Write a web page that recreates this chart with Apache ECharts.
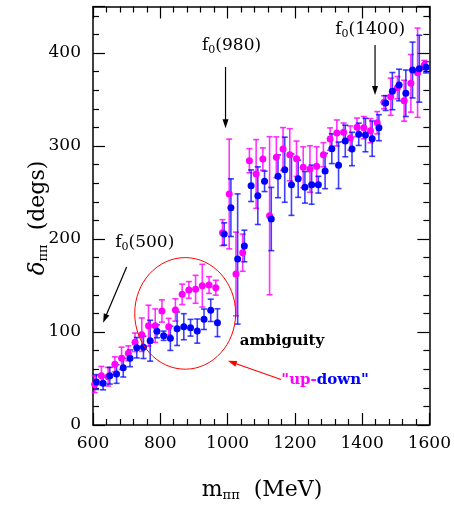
<!DOCTYPE html>
<html><head><meta charset="utf-8">
<script src="https://cdn.jsdelivr.net/npm/echarts@6/dist/echarts.min.js"></script>
<style>html,body{margin:0;padding:0;background:#fff}#c{width:454px;height:507px}</style>
</head><body><div id="c"></div>
<script>
// "down" solution (blue)
const blueMass = [610,630,650,670,690,710,730,750,770,790,810,830,850,870,890,910,930,950,970,
  990,1010,1030,1050,1070,1090,1110,1130,1150,1170,1190,1210,1230,1250,1270,1290,1310,1330,1350,1370,1390,
  1410,1430,1450,1470,1490,1510,1530,1550,1570,1590];
const blueDelta = [46.2,44.8,53.0,54.8,61.6,71.7,83.1,83.5,90.6,100.8,96.0,93.2,103.5,105.7,104.6,101.0,113.7,123.3,110.0,
  205.4,233.7,178.5,192.5,257.3,246.6,262.0,221.5,267.4,274.5,258.4,264.8,255.6,258.4,258.4,273.1,297.1,279.2,305.4,296.8,312.6,
  311.8,307.9,319.7,346.2,359.0,365.6,356.7,381.7,383.1,384.6];
const blueErr = [8,7,9,10,10,9,11,12,22,7,5,13,18,14,9,13,11,12,15,
  12,31,70,17,17,31,11,34,23,35,33,20,17,21,9,19,16,25,17,18,12,
  18,19,14,8,20,17,25,30,36,6];
// "up" solution (magenta)
const pinkMass = [605,625,645,665,685,705,725,745,765,785,805,825,845,865,885,905,925,945,965,
  985,1005,1025,1045,1065,1085,1105,1125,1145,1165,1185,1205,1225,1245,1265,1285,1305,1325,1345,1365,1385,
  1405,1425,1445,1465,1485,1505,1525,1545,1565,1585];
const pinkDelta = [43.8,53.0,51.9,65.3,71.7,77.1,88.9,97.1,106.8,106.8,122.6,105.7,123.7,140.5,145.2,145.9,149.8,150.5,147.6,
  206.8,248.4,162.4,185.3,284.2,269.9,286.0,225.0,287.8,296.8,290.6,286.3,277.1,275.3,278.2,290.6,307.5,314.0,314.7,308.6,320.1,
  319.7,316.5,325.0,347.0,353.0,362.7,348.7,367.4,378.8,387.1];
const pinkErr = [9,10,10,8,12,8,10,18,22,18,12,9,12,11,9,15,23,9,8,
  14,59,45,20,13,37,12,85,22,23,28,19,22,25,21,13,12,14,10,13,10,
  12,13,12,7,20,12,22,31,48,5];
const xRange = [600, 1600];
const yRange = [0, 450];

const FONT = 'DejaVu Serif';
const BLUE = '#0000ff', PINK = '#ff00ff';
const chart = echarts.init(document.getElementById('c'));

function errData(m, d, e) { return m.map((x, i) => [x, d[i] - e[i], d[i] + e[i]]); }
function errSeries(data, color, z, op) {
  return {
    type: 'custom', z, data, silent: true, encode: { x: 0, y: [1, 2] },
    renderItem(params, api) {
      const x = api.value(0), lo = api.value(1), hi = api.value(2);
      const a = api.coord([x, lo]), b = api.coord([x, hi]);
      const w = 3;
      const style = { stroke: color, lineWidth: 1.6, opacity: op };
      return { type: 'group', children: [
        { type: 'line', shape: { x1: a[0], y1: a[1], x2: b[0], y2: b[1] }, style },
        { type: 'line', shape: { x1: a[0] - w, y1: a[1], x2: a[0] + w, y2: a[1] }, style },
        { type: 'line', shape: { x1: b[0] - w, y1: b[1], x2: b[0] + w, y2: b[1] }, style }
      ] };
    }
  };
}
const tickCommon = {
  axisLine: { show: true, onZero: false, lineStyle: { color: '#000', width: 1.5 } },
  axisTick: { show: true, inside: true, length: 12, lineStyle: { color: '#000', width: 1.2 } },
  minorTick: { show: true, splitNumber: 5, length: 6, lineStyle: { color: '#000', width: 1.2 } },
  splitLine: { show: false }
};
const labelStyle = { fontFamily: FONT, fontSize: 17, color: '#000', formatter: v => String(v), showMaxLabel: false };

chart.setOption({
  animation: false,
  grid: { left: 93, right: 23, top: 6.5, bottom: 82 },
  xAxis: [
    Object.assign({ type: 'value', min: xRange[0], max: xRange[1], interval: 200, position: 'bottom',
      axisLabel: Object.assign({}, labelStyle, { margin: 10, showMaxLabel: true }) }, tickCommon),
    Object.assign({ type: 'value', min: xRange[0], max: xRange[1], interval: 200, position: 'top',
      axisLabel: { show: false } }, tickCommon)
  ],
  yAxis: [
    Object.assign({ type: 'value', min: yRange[0], max: yRange[1], interval: 100, position: 'left',
      axisLabel: Object.assign({}, labelStyle, { margin: 12 }) }, tickCommon),
    Object.assign({ type: 'value', min: yRange[0], max: yRange[1], interval: 100, position: 'right',
      axisLabel: { show: false } }, tickCommon)
  ],
  series: [
    errSeries(errData(pinkMass, pinkDelta, pinkErr), PINK, 2, 0.8),
    errSeries(errData(blueMass, blueDelta, blueErr), BLUE, 3, 0.75),
    { type: 'scatter', z: 4, symbolSize: 7, itemStyle: { color: PINK, opacity: 1 },
      data: pinkMass.map((x, i) => [x, pinkDelta[i]]) },
    { type: 'scatter', z: 5, symbolSize: 7, itemStyle: { color: BLUE, opacity: 1 },
      data: blueMass.map((x, i) => [x, blueDelta[i]]) }
  ]
});

function px(m, v) { return chart.convertToPixel({ xAxisIndex: 0, yAxisIndex: 0 }, [m, v]); }
function arrow(p, q, color, width, headLen, headW) {
  const dx = q[0] - p[0], dy = q[1] - p[1], L = Math.hypot(dx, dy), ux = dx / L, uy = dy / L;
  const bx = q[0] - ux * headLen, by = q[1] - uy * headLen, nx = -uy, ny = ux;
  return [
    { type: 'line', z: 10, shape: { x1: p[0], y1: p[1], x2: bx + ux, y2: by + uy }, style: { stroke: color, lineWidth: width } },
    { type: 'polygon', z: 10, shape: { points: [[q[0], q[1]], [bx + nx * headW / 2, by + ny * headW / 2], [bx - nx * headW / 2, by - ny * headW / 2]] },
      style: { fill: color } }
  ];
}
const normal = { fontFamily: FONT, fontSize: 17, fill: '#000' };
const sub = { fontFamily: FONT, fontSize: 11, fill: '#000', padding: [9, 0, 0, 0] };
function label(txt, p) {
  return { type: 'text', z: 10, style: { text: txt, x: p[0], y: p[1], align: 'center', verticalAlign: 'middle',
    rich: { n: normal, s: sub } } };
}
const c = px(874, 120), e = px(874 + 150, 120 + 60);
const g = [];
g.push(label('{n|f}{s|0}{n|(500)}', px(754, 196)));
g.push(...arrow(px(700, 170), px(630, 110), '#000', 1.2, 9, 6));
g.push(label('{n|f}{s|0}{n|(980)}', px(1012, 407.5)));
g.push(...arrow(px(994, 385), px(994, 319), '#000', 1.2, 9, 6));
g.push(label('{n|f}{s|0}{n|(1400)}', px(1424, 424.7)));
g.push(...arrow(px(1438.5, 408.6), px(1438.5, 354.8), '#000', 1.2, 9, 6));
g.push({ type: 'ellipse', z: 9, shape: { cx: c[0], cy: c[1], rx: e[0] - c[0], ry: c[1] - e[1] },
  style: { fill: 'none', stroke: '#ff0000', lineWidth: 1 } });
const amb = px(1036, 90.3);
g.push({ type: 'text', z: 10, style: { text: 'ambiguity', x: amb[0], y: amb[1], align: 'left', verticalAlign: 'middle',
  fontFamily: FONT, fontSize: 15, fontWeight: 'bold', fill: '#000' } });
const ud = px(1160, 48.4);
g.push({ type: 'text', z: 10, style: { text: '{m|"up-}{b|down"}', x: ud[0], y: ud[1], align: 'left', verticalAlign: 'middle',
  rich: { m: { fontFamily: FONT, fontSize: 15, fontWeight: 'bold', fill: PINK },
          b: { fontFamily: FONT, fontSize: 15, fontWeight: 'bold', fill: BLUE } } } });
g.push(...arrow(px(1159, 49), px(1001, 69), '#ff0000', 1.1, 9, 6));
// axis titles
g.push({ type: 'text', z: 10, style: { text: '{n|m}{s|ππ}{n|  (MeV)}', x: 262, y: 490, align: 'center', verticalAlign: 'middle',
  rich: { n: { fontFamily: FONT, fontSize: 22, fill: '#000' }, s: { fontFamily: FONT, fontSize: 13, fill: '#000', padding: [11, 0, 0, 0] } } } });
g.push({ type: 'text', z: 10, rotation: Math.PI / 2, x: 38, y: 218, style: { text: '{d|δ}{s|ππ}{n|  (degs)}', x: 0, y: 0, align: 'center', verticalAlign: 'middle',
  rich: { d: { fontFamily: FONT, fontSize: 23, fontStyle: 'italic', fill: '#000' }, n: { fontFamily: FONT, fontSize: 22, fill: '#000' },
          s: { fontFamily: FONT, fontSize: 13, fill: '#000', padding: [11, 0, 0, 0] } } } });
chart.setOption({ graphic: g });
</script></body></html>
